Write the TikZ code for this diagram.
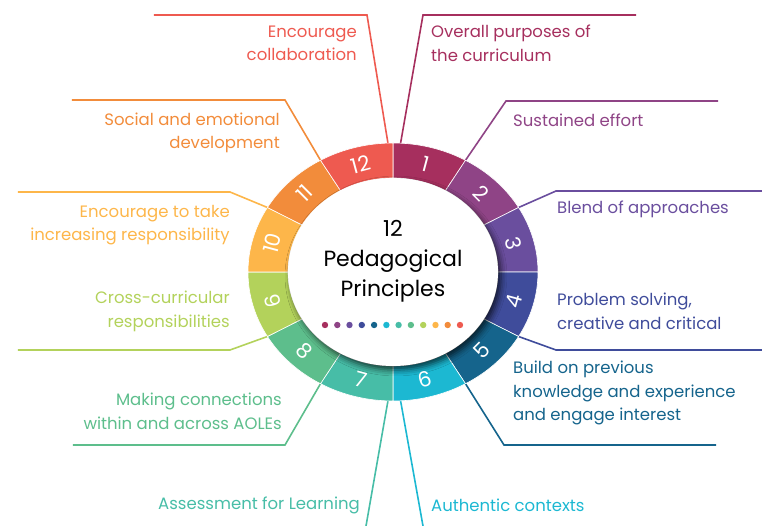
\documentclass[tikz,border=0pt]{standalone}
\usepackage{fontspec}
\setmainfont{Poppins}
\usetikzlibrary{shadows.blur}

\definecolor{c1}{HTML}{A62F5E}
\definecolor{c2}{HTML}{8F4486}
\definecolor{c3}{HTML}{6A4E9E}
\definecolor{c4}{HTML}{3F4C9B}
\definecolor{c5}{HTML}{15648C}
\definecolor{c6}{HTML}{1CB8D2}
\definecolor{c7}{HTML}{47BDA7}
\definecolor{c8}{HTML}{5DBE8C}
\definecolor{c9}{HTML}{B3D25B}
\definecolor{c10}{HTML}{FDB64A}
\definecolor{c11}{HTML}{F28C3B}
\definecolor{c12}{HTML}{EE5A50}

\begin{document}
\begin{tikzpicture}
        [x=1pt, y=1pt,
        seg/.style={draw=white, line width=0.6pt},
        num/.style={text=white, inner sep=0pt, font=\fontsize{21}{21}\selectfont},
        lead/.style={line width=1.6pt},
        lbl/.style={inner sep=0pt, font=\fontsize{16.5}{23.5}\selectfont},
        ringout/.style={x radius=145, y radius=129},
        ringin/.style={x radius=105, y radius=94}]

        \useasboundingbox (-393,-254) rectangle (369,272);

        % where the leaders leave the ring
        \coordinate (r12) at (92:145 and 129);
        \coordinate (r1) at (87:145 and 129);
        \coordinate (r2) at (60:145 and 129);
        \coordinate (r3) at (30:145 and 129);
        \coordinate (r4) at (-30:145 and 129);
        \coordinate (r5) at (-60:145 and 129);
        \coordinate (r6) at (-87:145 and 129);
        \coordinate (r7) at (-92:145 and 129);
        \coordinate (r8) at (-120:145 and 129);
        \coordinate (r9) at (-150:145 and 129);
        \coordinate (r10) at (150:145 and 129);
        \coordinate (r11) at (120:145 and 129);

        % bends and free ends of the leaders
        \coordinate (e12) at (-26,257);  \coordinate (t12) at (-239,257);
        \coordinate (e1) at (30,257);    \coordinate (t1) at (243,257);
        \coordinate (e2) at (113,171);   \coordinate (t2) at (325,171);
        \coordinate (e3) at (163,81);    \coordinate (t3) at (369,81);
        \coordinate (e4) at (163,-78);   \coordinate (t4) at (369,-78);
        \coordinate (e5) at (111,-173);  \coordinate (t5) at (323,-173);
        \coordinate (t6) at (30,-254);
        \coordinate (t7) at (-27,-254);
        \coordinate (e8) at (-108,-173); \coordinate (t8) at (-320,-173);
        \coordinate (e9) at (-163,-78);  \coordinate (t9) at (-375,-78);
        \coordinate (e10) at (-163,80);  \coordinate (t10) at (-375,80);
        \coordinate (e11) at (-108,172); \coordinate (t11) at (-321,172);

        % leaders
        \draw[lead, c12] (r12) -- (e12) -- (t12);
        \draw[lead, c1] (r1) -- (e1) -- (t1);
        \draw[lead, c2] (r2) -- (e2) -- (t2);
        \draw[lead, c3] (r3) -- (e3) -- (t3);
        \draw[lead, c4] (r4) -- (e4) -- (t4);
        \draw[lead, c5] (r5) -- (e5) -- (t5);
        \draw[lead, c6] (r6) -- (t6);
        \draw[lead, c7] (r7) -- (t7);
        \draw[lead, c8] (r8) -- (e8) -- (t8);
        \draw[lead, c9] (r9) -- (e9) -- (t9);
        \draw[lead, c10] (r10) -- (e10) -- (t10);
        \draw[lead, c11] (r11) -- (e11) -- (t11);

        % ring segments
        \filldraw[seg, fill=c1] (60:145 and 129) arc[ringout, start angle=60, end angle=90] -- (90:105 and 94) arc[ringin, start angle=90, end angle=60] -- cycle;
        \filldraw[seg, fill=c2] (30:145 and 129) arc[ringout, start angle=30, end angle=60] -- (60:105 and 94) arc[ringin, start angle=60, end angle=30] -- cycle;
        \filldraw[seg, fill=c3] (0:145 and 129) arc[ringout, start angle=0, end angle=30] -- (30:105 and 94) arc[ringin, start angle=30, end angle=0] -- cycle;
        \filldraw[seg, fill=c4] (-30:145 and 129) arc[ringout, start angle=-30, end angle=0] -- (0:105 and 94) arc[ringin, start angle=0, end angle=-30] -- cycle;
        \filldraw[seg, fill=c5] (-60:145 and 129) arc[ringout, start angle=-60, end angle=-30] -- (-30:105 and 94) arc[ringin, start angle=-30, end angle=-60] -- cycle;
        \filldraw[seg, fill=c6] (-90:145 and 129) arc[ringout, start angle=-90, end angle=-60] -- (-60:105 and 94) arc[ringin, start angle=-60, end angle=-90] -- cycle;
        \filldraw[seg, fill=c7] (-120:145 and 129) arc[ringout, start angle=-120, end angle=-90] -- (-90:105 and 94) arc[ringin, start angle=-90, end angle=-120] -- cycle;
        \filldraw[seg, fill=c8] (-150:145 and 129) arc[ringout, start angle=-150, end angle=-120] -- (-120:105 and 94) arc[ringin, start angle=-120, end angle=-150] -- cycle;
        \filldraw[seg, fill=c9] (-180:145 and 129) arc[ringout, start angle=-180, end angle=-150] -- (-150:105 and 94) arc[ringin, start angle=-150, end angle=-180] -- cycle;
        \filldraw[seg, fill=c10] (150:145 and 129) arc[ringout, start angle=150, end angle=180] -- (180:105 and 94) arc[ringin, start angle=180, end angle=150] -- cycle;
        \filldraw[seg, fill=c11] (120:145 and 129) arc[ringout, start angle=120, end angle=150] -- (150:105 and 94) arc[ringin, start angle=150, end angle=120] -- cycle;
        \filldraw[seg, fill=c12] (90:145 and 129) arc[ringout, start angle=90, end angle=120] -- (120:105 and 94) arc[ringin, start angle=120, end angle=90] -- cycle;

        % white middle with its shadow
        \fill[white, blur shadow={shadow xshift=3pt, shadow yshift=-4pt, shadow blur radius=6pt, shadow opacity=70}] (0,0) ellipse[ringin];

        % numbers
        \node[num, rotate=-15] (n1) at (75:125 and 111.5) {1};
        \node[num, rotate=-45] (n2) at (45:125 and 111.5) {2};
        \node[num, rotate=-75] (n3) at (15:125 and 111.5) {3};
        \node[num, rotate=75] (n4) at (-15:125 and 111.5) {4};
        \node[num, rotate=45] (n5) at (-45:125 and 111.5) {5};
        \node[num, rotate=15] (n6) at (-75:125 and 111.5) {6};
        \node[num, rotate=-15] (n7) at (-105:125 and 111.5) {7};
        \node[num, rotate=-45] (n8) at (-135:125 and 111.5) {8};
        \node[num, rotate=-75] (n9) at (-165:125 and 111.5) {9};
        \node[num, rotate=75] (n10) at (165:125 and 111.5) {10};
        \node[num, rotate=45] (n11) at (135:125 and 111.5) {11};
        \node[num, rotate=15] (n12) at (105:125 and 111.5) {12};

        % title and dots
        \node[align=center, font=\fontsize{22}{30}\selectfont] (title) at (0,11) {12\\Pedagogical\\Principles};
        \fill[c1] (-68,-53) circle (3.2);
        \fill[c2] (-55.7,-53) circle (3.2);
        \fill[c3] (-43.5,-53) circle (3.2);
        \fill[c4] (-31.2,-53) circle (3.2);
        \fill[c5] (-18.9,-53) circle (3.2);
        \fill[c6] (-6.6,-53) circle (3.2);
        \fill[c7] (5.6,-53) circle (3.2);
        \fill[c8] (17.9,-53) circle (3.2);
        \fill[c9] (30.2,-53) circle (3.2);
        \fill[c10] (42.5,-53) circle (3.2);
        \fill[c11] (54.7,-53) circle (3.2);
        \fill[c12] (67,-53) circle (3.2);

        % labels
        \node[lbl, c12, anchor=east, align=right] (l12) at (-36,228.5) {Encourage\\collaboration};
        \node[lbl, c1, anchor=west, align=left] (l1) at (38,228.5) {Overall purposes of\\the curriculum};
        \node[lbl, c2, anchor=west] (l2) at (120,152) {Sustained effort};
        \node[lbl, c3, anchor=west] (l3) at (164,63) {Blend of approaches};
        \node[lbl, c4, anchor=west, align=left] (l4) at (164,-39.5) {Problem solving,\\creative and critical};
        \node[lbl, c5, anchor=west, align=left] (l5) at (120,-121) {Build on previous\\knowledge and experience\\and engage interest};
        \node[lbl, c6, anchor=west] (l6) at (38,-233) {Authentic contexts};
        \node[lbl, c7, anchor=east] (l7) at (-33,-233) {Assessment for Learning};
        \node[lbl, c8, anchor=east, align=right] (l8) at (-111,-139.5) {Making connections\\within and across AOLEs};
        \node[lbl, c9, anchor=east, align=right] (l9) at (-163,-39.5) {Cross-curricular\\responsibilities};
        \node[lbl, c10, anchor=east, align=right] (l10) at (-163,47) {Encourage to take\\increasing responsibility};
        \node[lbl, c11, anchor=east, align=right] (l11) at (-113,139) {Social and emotional\\development};

\end{tikzpicture}
\end{document}
